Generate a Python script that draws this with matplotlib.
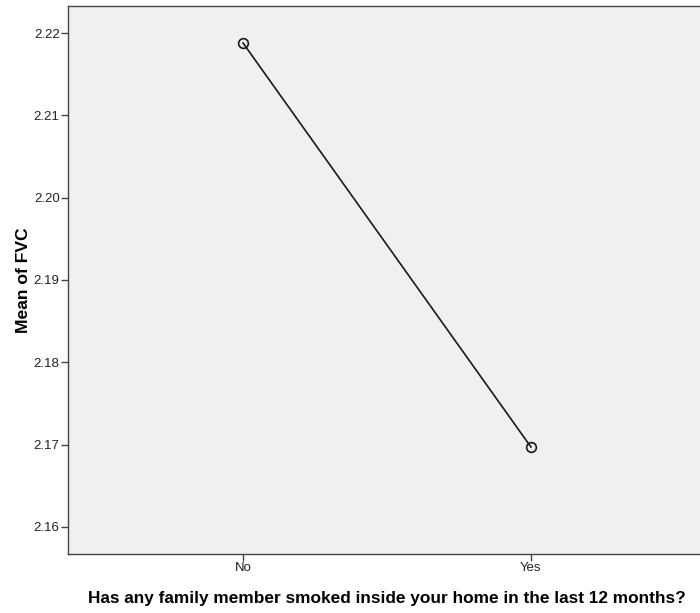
import matplotlib
matplotlib.use("Agg")
import matplotlib.pyplot as plt

categories = ["No", "Yes"]
mean_fvc = [2.2188, 2.1697]
y_ticks = [2.16, 2.17, 2.18, 2.19, 2.20, 2.21, 2.22]

plt.rcParams['font.family'] = ['Liberation Sans', 'DejaVu Sans']

fig = plt.figure(figsize=(7.0, 6.13), dpi=100)
W, H = 700, 613
ax = fig.add_axes([68 / W, (H - 554) / H, (706 - 68) / W, (554 - 6) / H])
ax.set_facecolor("#F0F0F0")

x = list(range(len(categories)))
ax.plot(x, mean_fvc, color="#1a1a1a", linewidth=1.2, marker="o",
        markersize=7, markerfacecolor="none", markeredgecolor="#1a1a1a",
        markeredgewidth=1.2)

ax.set_xlim(-0.608, 1.608)
ax.set_ylim(2.1567, 2.2233)
ax.set_xticks(x)
ax.set_xticklabels(categories)
ax.set_yticks(y_ticks)
ax.set_yticklabels([f"{v:.2f}" for v in y_ticks])

for s in ax.spines.values():
    s.set_color("#444444")
    s.set_linewidth(1.0)
ax.spines["right"].set_visible(False)

ax.tick_params(axis="both", direction="out", length=5, width=1.0,
               color="#444444", labelsize=9.5, labelcolor="#222222", pad=1)

ax.set_ylabel("Mean of FVC", fontsize=12.6, fontweight="bold", labelpad=2)
ax.set_xlabel("Has any family member smoked inside your home in the last 12 months?",
              fontsize=12.4, fontweight="bold", labelpad=12)

fig.savefig("out.png", dpi=100)
